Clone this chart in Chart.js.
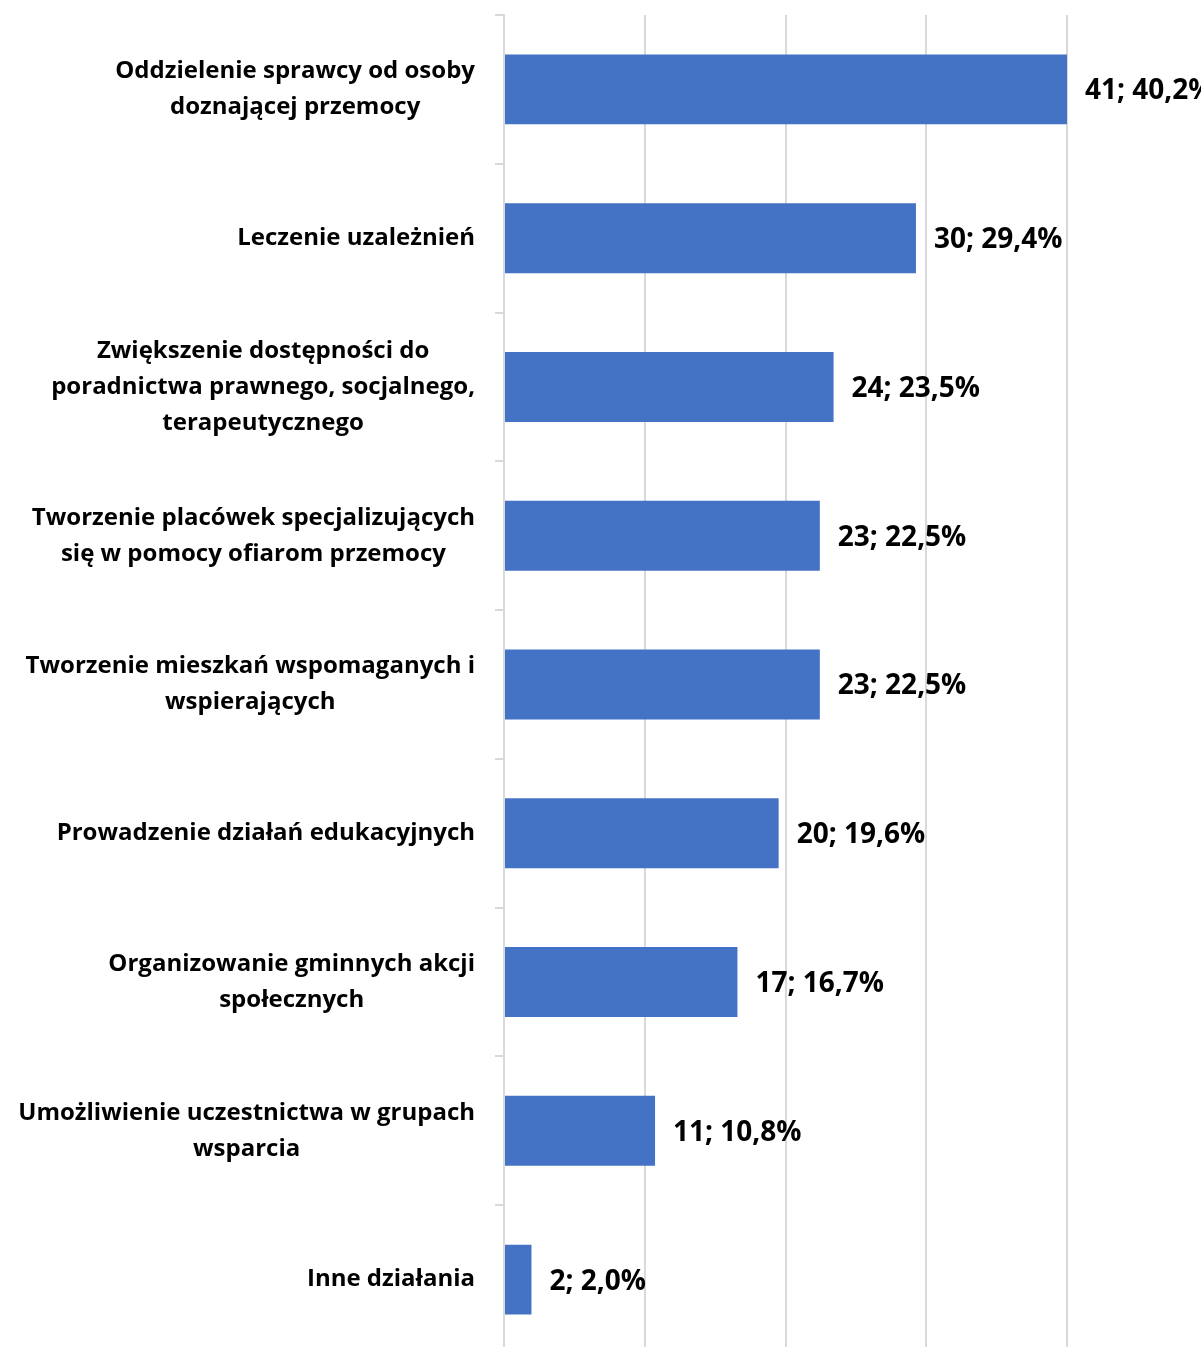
<!DOCTYPE html>
<html>
<head>
<meta charset="utf-8">
<script src="https://cdn.jsdelivr.net/npm/chart.js@4"></script>
<style>
  html, body { margin: 0; padding: 0; background: #fff; overflow: hidden; }
  #wrap { width: 1201px; height: 1355px; }
</style>
</head>
<body>
<div id="wrap"><canvas id="chart"></canvas></div>
<script>
const categories = [
    ["Oddzielenie sprawcy od osoby", "doznającej przemocy"],
    ["Leczenie uzależnień"],
    ["Zwiększenie dostępności do", "poradnictwa prawnego, socjalnego,", "terapeutycznego"],
    ["Tworzenie placówek specjalizujących", "się w pomocy ofiarom przemocy"],
    ["Tworzenie mieszkań wspomaganych i", "wspierających"],
    ["Prowadzenie działań edukacyjnych"],
    ["Organizowanie gminnych akcji", "społecznych"],
    ["Umożliwienie uczestnictwa w grupach", "wsparcia"],
    ["Inne działania"],
];
const counts = [41, 30, 24, 23, 23, 20, 17, 11, 2];
const percents = ["40,2%", "29,4%", "23,5%", "22,5%", "22,5%", "19,6%", "16,7%", "10,8%", "2,0%"];

const labelFont = "bold 24px 'Open Sans'";
const valueFont = "bold 28px 'Open Sans'";

// category labels: block right-aligned, lines centered inside the block
const catLabels = {
    id: "catLabels",
    afterDraw(chart) {
        const ctx = chart.ctx;
        const y = chart.scales.y;
        const right = 475;
        const lh = 36;
        ctx.save();
        ctx.font = labelFont;
        ctx.fillStyle = "#000";
        ctx.textBaseline = "middle";
        ctx.textAlign = "center";
        categories.forEach((lines, i) => {
            const w = Math.max(...lines.map(l => ctx.measureText(l).width));
            const cx = right - w / 2;
            const cy = y.getPixelForValue(i);
            const top = cy - (lines.length - 1) * lh / 2;
            lines.forEach((l, j) => ctx.fillText(l, cx, top + j * lh));
        });
        ctx.restore();
    }
};

const valueLabels = {
    id: "valueLabels",
    afterDatasetsDraw(chart) {
        const ctx = chart.ctx;
        const meta = chart.getDatasetMeta(0);
        ctx.save();
        ctx.font = valueFont;
        ctx.fillStyle = "#000";
        ctx.textBaseline = "middle";
        ctx.textAlign = "left";
        meta.data.forEach((bar, i) => {
            ctx.fillText(counts[i] + "; " + percents[i], bar.x + 18, bar.y + 2);
        });
        ctx.restore();
    }
};

new Chart(document.getElementById("chart"), {
    type: "bar",
    data: {
        labels: categories.map(c => c.join(" ")),
        datasets: [{
            data: counts,
            backgroundColor: "#4472C4",
            borderWidth: 0,
            categoryPercentage: 1,
            barPercentage: 0.47,
        }],
    },
    options: {
        indexAxis: "y",
        responsive: true,
        maintainAspectRatio: false,
        animation: false,
        layout: { padding: { top: 15, right: 134, bottom: 1, left: 0 } },
        plugins: { legend: { display: false }, tooltip: { enabled: false } },
        scales: {
            x: {
                min: 0,
                max: 41,
                ticks: { display: false, count: 5 },
                grid: { color: "#d9d9d9", lineWidth: 2, drawTicks: false },
                border: { display: false },
            },
            y: {
                ticks: { display: false },
                grid: { offset: true, drawOnChartArea: false, drawTicks: true, tickLength: 9, color: "#d9d9d9", lineWidth: 2 },
                border: { color: "#d9d9d9", width: 2 },
                afterFit(scale) { scale.width = 504; },
            },
        },
    },
    plugins: [catLabels, valueLabels],
});
</script>
</body>
</html>
